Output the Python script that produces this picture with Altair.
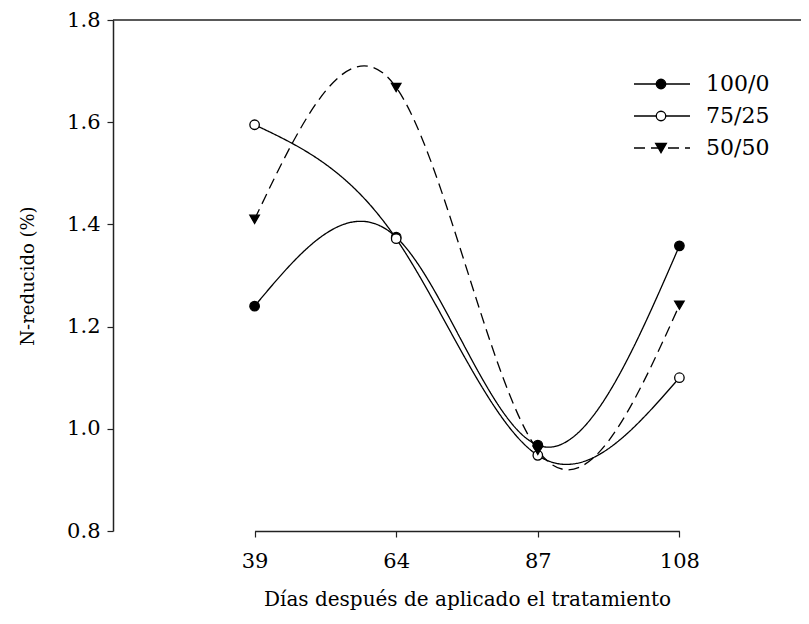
import altair as alt
import pandas as pd

dias = ["39", "64", "87", "108"]
series = ["100/0", "75/25", "50/50"]
v100 = [1.24, 1.375, 0.968, 1.358]
v75 = [1.595, 1.372, 0.948, 1.10]
v50 = [1.41, 1.668, 0.958, 1.242]

rows = []
for s, vals in zip(series, [v100, v75, v50]):
    for d, v in zip(dias, vals):
        rows.append({"dias": d, "serie": s, "n": v})
df = pd.DataFrame(rows)

W = 688
H = 511
STEP = 141.6
FONT = "DejaVu Serif"

dashes = [[1, 0], [1, 0], [11, 6]]
fills = ["black", "white", "black"]
shapes = ["circle", "circle", "triangle-down"]
sizes = [90, 90, 115]

xenc = alt.X(
    "dias:O", sort=dias,
    scale=alt.Scale(domain=dias, range=[STEP, 4 * STEP], padding=0),
    axis=alt.Axis(title="Días después de aplicado el tratamiento", labelAngle=0,
                  labelPadding=13, titlePadding=18, labelFontSize=21, titleFontSize=20),
)
yenc = alt.Y(
    "n:Q",
    scale=alt.Scale(domain=[0.8, 1.8], nice=False, zero=False),
    axis=alt.Axis(title="N-reducido (%)", values=[0.8, 1.0, 1.2, 1.4, 1.6, 1.8],
                  format=".1f", labelPadding=7, titlePadding=29,
                  labelFontSize=21, titleFontSize=18),
)

base = alt.Chart(df)
lines = base.mark_line(interpolate="natural", color="black", strokeWidth=1.3).encode(
    x=xenc, y=yenc, detail="serie:N",
    strokeDash=alt.StrokeDash("serie:N", scale=alt.Scale(domain=series, range=dashes), legend=None),
)
points = base.mark_point(filled=True, stroke="black", strokeWidth=1.3, opacity=1).encode(
    x=xenc, y=yenc,
    shape=alt.Shape("serie:N", scale=alt.Scale(domain=series, range=shapes), legend=None),
    fill=alt.Fill("serie:N", scale=alt.Scale(domain=series, range=fills), legend=None),
    size=alt.Size("serie:N", scale=alt.Scale(domain=series, range=sizes), legend=None),
)

top = alt.Chart(pd.DataFrame({"a": [0]})).mark_rule(color="#222", strokeWidth=1.5).encode(
    x=alt.value(0), x2=alt.value(W), y=alt.value(0)
)

legend_layers = []
LX0, LX1, LSYM, LTXT, LY0, LDY = 521, 577, 548, 593, 64, 32
for i, s in enumerate(series):
    d = alt.Chart(pd.DataFrame({"label": [s]}))
    yy = LY0 + LDY * i
    legend_layers.append(
        d.mark_rule(color="black", strokeWidth=1.3, strokeDash=dashes[i] if i == 2 else [1, 0]).encode(
            x=alt.value(LX0), x2=alt.value(LX1), y=alt.value(yy))
    )
    legend_layers.append(
        d.mark_point(filled=True, fill=fills[i], stroke="black", strokeWidth=1.3,
                     shape=shapes[i], size=sizes[i], opacity=1).encode(
            x=alt.value(LSYM), y=alt.value(yy))
    )
    legend_layers.append(
        d.mark_text(align="left", baseline="middle", font=FONT, fontSize=22, color="black").encode(
            x=alt.value(LTXT), y=alt.value(yy), text="label:N")
    )

chart = alt.layer(lines, points, top, *legend_layers).properties(
    width=W, height=H,
    autosize=alt.AutoSizeParams(type="none"),
    padding={"left": 105, "top": 12, "right": 0, "bottom": 90},
).configure_view(stroke=None).configure_text(font=FONT).configure_axis(
    grid=False, domainColor="#222", domainWidth=1.5, tickColor="#222", tickWidth=1.2,
    tickSize=6, labelFont=FONT, labelColor="black",
    titleFont=FONT, titleFontWeight="normal", titleColor="black",
)

chart.save("out.html", embed_options={"renderer": "svg", "actions": False})
